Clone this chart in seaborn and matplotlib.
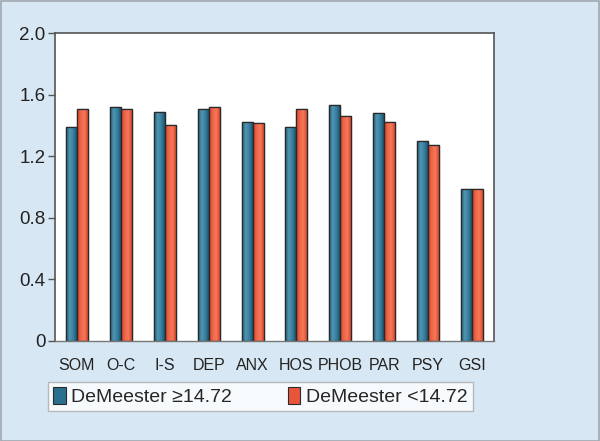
import numpy as np
import pandas as pd
import matplotlib
matplotlib.use('Agg')
import matplotlib.pyplot as plt
import seaborn as sns
from matplotlib.patches import Patch, Rectangle
from matplotlib.colors import LinearSegmentedColormap

# Data
categories = ['SOM', 'O-C', 'I-S', 'DEP', 'ANX', 'HOS', 'PHOB', 'PAR', 'PSY', 'GSI']
high_vals = [1.39, 1.52, 1.49, 1.505, 1.42, 1.39, 1.535, 1.48, 1.30, 0.99]
low_vals = [1.505, 1.505, 1.40, 1.52, 1.415, 1.505, 1.46, 1.42, 1.27, 0.99]
groups = ['DeMeester \u226514.72', 'DeMeester <14.72']
yticks = [0, 0.4, 0.8, 1.2, 1.6, 2.0]
ytick_labels = ['0', '0.4', '0.8', '1.2', '1.6', '2.0']

BG = '#d7e8f4'
TEAL = '#2b6f8e'
RED = '#e8553a'

df = pd.DataFrame({
    'cat': categories * 2,
    'val': high_vals + low_vals,
    'grp': [groups[0]] * len(categories) + [groups[1]] * len(categories),
})

sns.set_style('white')
plt.rcParams['font.family'] = ['Liberation Sans', 'DejaVu Sans']

fig = plt.figure(figsize=(6, 4.41), dpi=100, facecolor=BG)
ax = fig.add_axes([0.0917, 0.2268, 0.7316, 0.6982])
ax.set_facecolor('white')

sns.barplot(data=df, x='cat', y='val', hue='grp', order=categories, hue_order=groups,
            palette=[TEAL, RED], width=0.5, edgecolor='#2a2a2a', linewidth=0.9,
            saturation=1, legend=False, ax=ax)

# horizontal shading on each bar
teal_cm = LinearSegmentedColormap.from_list('t', ['#1d5a78', '#4f95b1', '#3a7f9e', '#1b5572'])
red_cm = LinearSegmentedColormap.from_list('r', ['#d8432a', '#ee6446', '#f4795b', '#d9472c'])
grad = np.linspace(0, 1, 64).reshape(1, -1)
n = len(categories)
for i, p in enumerate(ax.patches[:2 * n]):
    x0, y0 = p.get_x(), p.get_y()
    w, h = p.get_width(), p.get_height()
    cm = teal_cm if i < n else red_cm
    im = ax.imshow(grad, cmap=cm, aspect='auto', extent=[x0, x0 + w, y0, y0 + h],
                   zorder=p.get_zorder() + 0.1)
    im.set_clip_path(p)
    edge = Rectangle((x0, y0), w, h, fill=False, edgecolor='#2a2a2a', linewidth=0.9,
                     zorder=p.get_zorder() + 0.2)
    ax.add_patch(edge)

ax.set_xlim(-0.5, n - 0.5)
ax.set_ylim(0, 2.0)
ax.set_xlabel('')
ax.set_ylabel('')
ax.set_yticks(yticks)
ax.set_yticklabels(ytick_labels, fontsize=13.5, color='#222222')
ax.set_xticks(range(n))
ax.set_xticklabels(categories, fontsize=11.5, color='#222222')
ax.set_xticks(np.arange(-0.5, n, 1.0), minor=True)
ax.tick_params(axis='x', which='major', length=0, pad=12)
ax.tick_params(axis='x', which='minor', length=6, width=1, color='#555555', direction='out')
ax.tick_params(axis='y', length=5, width=1, color='#555555', direction='out', pad=2, left=True)

for s in ['top', 'left', 'right']:
    ax.spines[s].set_color('#555555')
    ax.spines[s].set_linewidth(1.2)
ax.spines['bottom'].set_color('#777777')
ax.spines['bottom'].set_linewidth(1.0)

# legend box spanning under the plot
handles = [Patch(facecolor=TEAL, edgecolor='#2a2a2a', linewidth=0.8),
           Patch(facecolor=RED, edgecolor='#2a2a2a', linewidth=0.8)]
leg = fig.legend(handles, groups, ncol=2, mode='expand',
                 bbox_to_anchor=(0.08, 0.068, 0.708, 0.068), loc='lower left',
                 frameon=True, fancybox=False, fontsize=14, handlelength=0.65,
                 handleheight=1.0, handletextpad=0.3, borderaxespad=0, borderpad=0.25)
leg.get_frame().set_edgecolor('#aaaaaa')
leg.get_frame().set_linewidth(1.0)
leg.get_frame().set_facecolor('white')

# thin outer border
fig.add_artist(Rectangle((0.001, 0.001), 0.998, 0.997, transform=fig.transFigure,
                         fill=False, edgecolor='#a0a8b0', linewidth=1.2))

fig.savefig('out.png', dpi=100, facecolor=BG)
